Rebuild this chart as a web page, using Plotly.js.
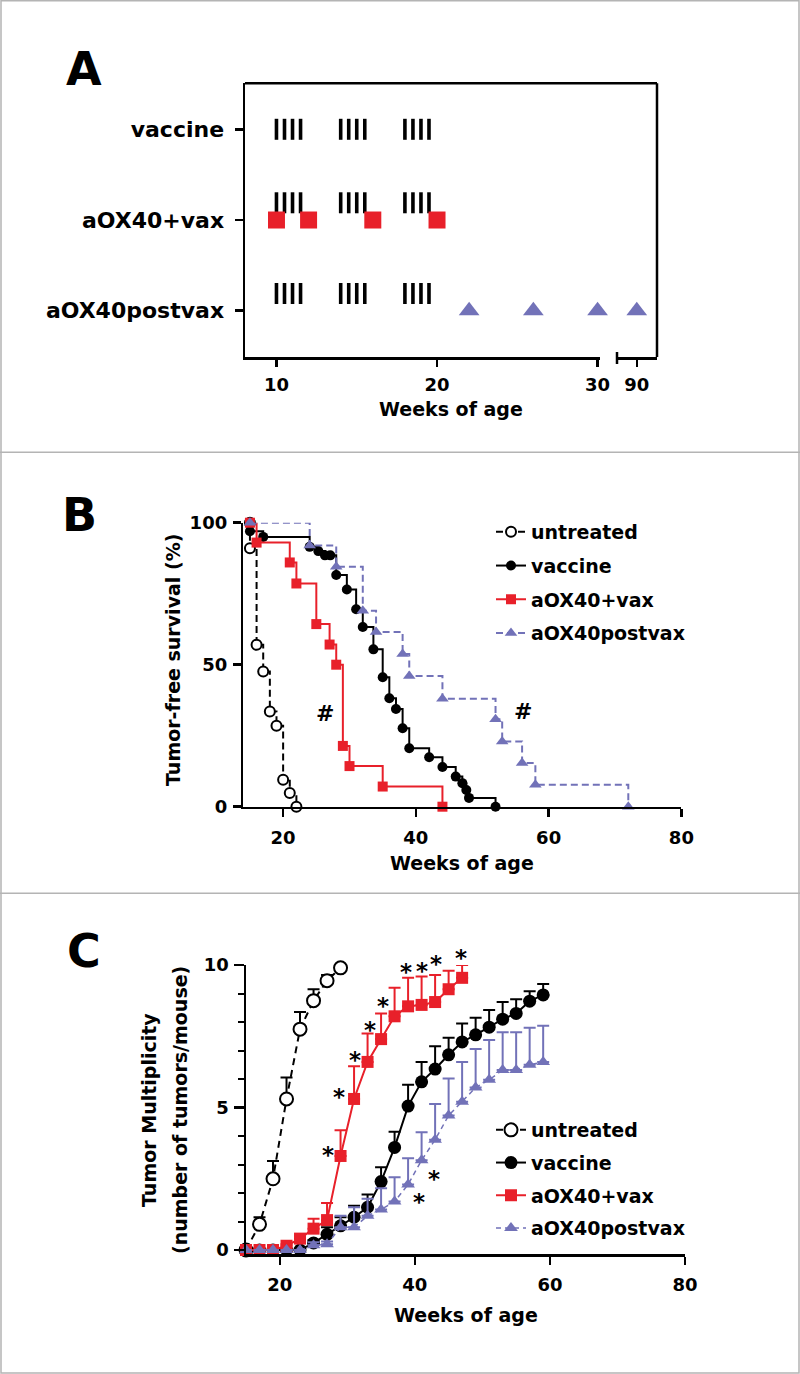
<!DOCTYPE html>
<html><head><meta charset="utf-8">
<script src="https://cdn.plot.ly/plotly-3.0.1.min.js"></script>
<style>html,body{margin:0;padding:0;background:#fff}#chart{width:800px;height:1374px}</style>
</head><body><div id="chart"></div>
<script>
// ---------------- DATA ----------------
// Panel A: treatment schedule (weeks of age)
const scheduleRows = ['aOX40postvax', 'aOX40+vax', 'vaccine'];   // y = 1, 2, 3
const vaccineDoseWeeks = [10, 10.5, 11, 11.5, 14, 14.5, 15, 15.5, 18, 18.5, 19, 19.5];
const aOX40DoseWeeks = [10, 12, 16, 20];
const postvaxDoseWeeks = [22, 26, 30, 90];
const scheduleTickVals = [10, 20, 30];
const scheduleBreakTick = [90];

// Panel B: tumor-free survival (%)
const untreatedSurvWeeks = [15, 15, 16, 17, 18, 19, 20, 21, 22];
const untreatedSurv      = [100, 91, 57, 47.6, 33.5, 28.5, 9.5, 4.8, 0];
const vaccineSurvWeeks = [15, 15, 17, 24, 25.3, 26.3, 27.1, 28, 29.6, 31, 32, 33.6, 35, 36, 37, 38, 39, 42, 44, 46, 47, 47.6, 48, 52];
const vaccineSurv      = [100, 97, 95, 91.5, 90, 88.5, 88.5, 81.6, 76.5, 69.5, 63.3, 55.4, 45.6, 38.2, 34.4, 27.6, 20.6, 17.4, 14, 10.6, 8.3, 5.9, 3.1, 0];
const aOX40SurvWeeks = [15, 16, 21, 22, 25, 27, 28, 29, 30, 35, 44];
const aOX40Surv      = [100, 93, 86, 78.6, 64.3, 57.1, 50, 21.4, 14.3, 7.1, 0];
const postvaxSurvWeeks = [15, 24, 28, 32, 34, 38, 39, 44, 52, 53, 56, 58, 72];
const postvaxSurv      = [100, 92, 84.5, 69, 61.5, 53.8, 46, 38, 30.8, 23, 15.4, 7.7, 0];
const hashWeeks = [26.3, 56.1];
const hashSurv  = [32.8, 33.5];

// Panel C: tumor multiplicity (mean, upper SEM)
const untreatedMultWeeks = [15, 17, 19, 21, 23, 25, 27, 29];
const untreatedMult      = [0, 0.9, 2.5, 5.3, 7.75, 8.75, 9.45, 9.9];
const untreatedMultErr   = [0, 0.25, 0.62, 0.75, 0.6, 0.4, 0.2, 0.05];
const vaccineMultWeeks = [15, 17, 19, 21, 23, 25, 27, 29, 31, 33, 35, 37, 39, 41, 43, 45, 47, 49, 51, 53, 55, 57, 59];
const vaccineMult      = [0, 0, 0, 0, 0, 0.25, 0.55, 0.85, 1.15, 1.5, 2.4, 3.6, 5.05, 5.9, 6.35, 6.85, 7.3, 7.55, 7.82, 8.1, 8.3, 8.73, 8.95];
const vaccineMultErr   = [0, 0, 0, 0, 0, 0.1, 0.25, 0.3, 0.4, 0.45, 0.5, 0.55, 0.75, 0.7, 0.8, 0.6, 0.65, 0.6, 0.6, 0.6, 0.5, 0.35, 0.38];
const aOX40MultWeeks = [15, 17, 19, 21, 23, 25, 27, 29, 31, 33, 35, 37, 39, 41, 43, 45, 47];
const aOX40Mult      = [0, 0, 0, 0.15, 0.4, 0.75, 1.05, 3.3, 5.3, 6.6, 7.4, 8.2, 8.55, 8.6, 8.7, 9.15, 9.55];
const aOX40MultErr   = [0, 0, 0, 0.05, 0.1, 0.35, 0.6, 0.9, 1.15, 1.0, 0.9, 1.0, 1.0, 1.0, 0.95, 0.65, 0.45];
const postvaxMultWeeks = [15, 17, 19, 21, 23, 25, 27, 29, 31, 33, 35, 37, 39, 41, 43, 45, 47, 49, 51, 53, 55, 57, 59];
const postvaxMult      = [0, 0, 0, 0, 0, 0.17, 0.2, 0.8, 0.8, 1.2, 1.42, 1.7, 2.3, 3.15, 3.87, 4.72, 5.2, 5.7, 5.97, 6.32, 6.32, 6.5, 6.6];
const postvaxMultErr   = [0, 0, 0, 0, 0, 0.1, 0.1, 0.4, 0.7, 0.6, 0.75, 0.85, 0.92, 0.98, 1.25, 1.3, 1.4, 1.35, 1.4, 1.32, 1.32, 1.3, 1.27];
const starWeeks = [27.2, 28.8, 31.1, 33.4, 35.3, 38.7, 41.1, 43.1, 46.8, 40.6, 42.8];
const starMult  = [3.5, 5.56, 6.85, 7.9, 8.75, 9.93, 9.96, 10.2, 10.43, 1.85, 2.65];

// ---------------- STYLE ----------------
const W = 800, H = 1374;
const px = v => v / W;
const py = v => 1 - v / H;
const FONT = 'DejaVu Sans';
const RED = '#e8202a', PURPLE = '#7272b8', BLACK = '#000000';
const barOffset = {3: 0, 2: 0.19, 1: 0.19};

function ax(o) {
  return Object.assign({
    showgrid: false, zeroline: false, showline: true, linecolor: BLACK, linewidth: 2.5,
    ticks: 'outside', tickcolor: BLACK, tickwidth: 2.5, ticklen: 8,
    tickfont: {family: FONT, size: 18, color: BLACK, weight: 'bold'}, fixedrange: true
  }, o);
}

const traces = [];

// ----- Panel A -----
const barX = [], barY = [];
[3, 2, 1].forEach(r => vaccineDoseWeeks.forEach(w => { barX.push(w); barY.push(r + barOffset[r]); }));
traces.push({type: 'scatter', mode: 'markers', x: barX, y: barY, xaxis: 'x', yaxis: 'y',
  marker: {symbol: 'line-ns-open', size: 15, color: BLACK, line: {width: 3.6, color: BLACK}},
  showlegend: false, cliponaxis: false, hoverinfo: 'skip'});
traces.push({type: 'scatter', mode: 'markers', x: aOX40DoseWeeks, y: aOX40DoseWeeks.map(() => 2), xaxis: 'x', yaxis: 'y',
  marker: {symbol: 'square', size: 17, color: RED}, showlegend: false, cliponaxis: false, hoverinfo: 'skip'});
const pvEarly = postvaxDoseWeeks.filter(w => w <= 30), pvLate = postvaxDoseWeeks.filter(w => w > 30);
traces.push({type: 'scatter', mode: 'markers', x: pvEarly, y: pvEarly.map(() => 1), xaxis: 'x', yaxis: 'y',
  marker: {symbol: 'triangle-up', size: 18, color: PURPLE}, showlegend: false, cliponaxis: false, hoverinfo: 'skip'});
traces.push({type: 'scatter', mode: 'markers', x: pvLate, y: pvLate.map(() => 1), xaxis: 'x2', yaxis: 'y',
  marker: {symbol: 'triangle-up', size: 18, color: PURPLE}, showlegend: false, cliponaxis: false, hoverinfo: 'skip'});

// ----- Panel B -----
const dashB = '7px,4px';
traces.push({type: 'scatter', mode: 'lines+markers', name: 'untreated', legend: 'legend', legendgroup: 'b1',
  x: untreatedSurvWeeks, y: untreatedSurv, xaxis: 'x3', yaxis: 'y3', line: {shape: 'hv', color: BLACK, width: 2, dash: dashB},
  marker: {symbol: 'circle', size: 10, color: '#fff', line: {color: BLACK, width: 2}}, cliponaxis: false});
traces.push({type: 'scatter', mode: 'lines+markers', name: 'vaccine', legend: 'legend', legendgroup: 'b2',
  x: vaccineSurvWeeks, y: vaccineSurv, xaxis: 'x3', yaxis: 'y3', line: {shape: 'hv', color: BLACK, width: 2},
  marker: {symbol: 'circle', size: 10, color: BLACK}, cliponaxis: false});
traces.push({type: 'scatter', mode: 'lines+markers', name: 'aOX40+vax', legend: 'legend', legendgroup: 'b3',
  x: aOX40SurvWeeks, y: aOX40Surv, xaxis: 'x3', yaxis: 'y3', line: {shape: 'hv', color: RED, width: 2},
  marker: {symbol: 'square', size: 10, color: RED}, cliponaxis: false});
traces.push({type: 'scatter', mode: 'lines+markers', name: 'aOX40postvax', legend: 'legend', legendgroup: 'b4',
  x: postvaxSurvWeeks, y: postvaxSurv, xaxis: 'x3', yaxis: 'y3', line: {shape: 'hv', color: PURPLE, width: 2, dash: dashB},
  marker: {symbol: 'triangle-up', size: 11, color: PURPLE}, cliponaxis: false});

// ----- Panel C -----
function errSpec(arr, color) {
  return {type: 'data', symmetric: false, array: arr, arrayminus: arr.map(() => 0), color: color, thickness: 2, width: 6};
}
traces.push({type: 'scatter', mode: 'lines+markers', name: 'untreated', legend: 'legend2', legendgroup: 'c1',
  x: untreatedMultWeeks, y: untreatedMult, xaxis: 'x4', yaxis: 'y4', line: {color: BLACK, width: 2, dash: '7px,5px'},
  error_y: errSpec(untreatedMultErr, BLACK),
  marker: {symbol: 'circle', size: 13, color: '#fff', line: {color: BLACK, width: 2}}, cliponaxis: false});
traces.push({type: 'scatter', mode: 'lines+markers', name: 'vaccine', legend: 'legend2', legendgroup: 'c2',
  x: vaccineMultWeeks, y: vaccineMult, xaxis: 'x4', yaxis: 'y4', line: {color: BLACK, width: 2},
  error_y: errSpec(vaccineMultErr, BLACK),
  marker: {symbol: 'circle', size: 13, color: BLACK}, cliponaxis: false});
traces.push({type: 'scatter', mode: 'lines+markers', name: 'aOX40+vax', legend: 'legend2', legendgroup: 'c3',
  x: aOX40MultWeeks, y: aOX40Mult, xaxis: 'x4', yaxis: 'y4', line: {color: RED, width: 2},
  error_y: errSpec(aOX40MultErr, RED),
  marker: {symbol: 'square', size: 12, color: RED}, cliponaxis: false});
traces.push({type: 'scatter', mode: 'lines+markers', name: 'aOX40postvax', legend: 'legend2', legendgroup: 'c4',
  x: postvaxMultWeeks, y: postvaxMult, xaxis: 'x4', yaxis: 'y4', line: {color: PURPLE, width: 1.5, dash: '5px,4px'},
  error_y: errSpec(postvaxMultErr, PURPLE),
  marker: {symbol: 'triangle-up', size: 12, color: PURPLE}, cliponaxis: false});

// ---------------- AXIS GEOMETRY ----------------
const yCrange = [-0.15, 10];
const yCdomPx = [1254.3, 965];
const yCpxPerUnit = (yCdomPx[0] - yCdomPx[1]) / (yCrange[1] - yCrange[0]);

// ---------------- ANNOTATIONS ----------------
const ann = [];
function txt(text, x, y, size, extra) {
  ann.push(Object.assign({text: text, x: x, y: y, xref: 'paper', yref: 'paper', xanchor: 'center', yanchor: 'middle',
    showarrow: false, font: {family: FONT, size: size, color: BLACK, weight: 'bold'}}, extra || {}));
}
txt('A', px(84), py(69), 46);
txt('B', px(79), py(515), 46);
txt('C', px(84), py(951), 46);
txt('Weeks of age', px(451.5), py(409), 19);
txt('Weeks of age', px(462), py(863), 19);
txt('Weeks of age', px(465.5), py(1315), 19);
txt('Tumor-free survival (%)', px(173), py(660), 19, {textangle: -90});
txt('Tumor Multiplicity', px(149), py(1110), 19, {textangle: -90});
txt('(number of tumors/mouse)', px(180), py(1110), 19, {textangle: -90});
hashWeeks.forEach((w, i) => ann.push({text: '#', x: w, y: hashSurv[i], xref: 'x3', yref: 'y3', showarrow: false,
  font: {family: FONT, size: 22, color: BLACK, weight: 'bold'}}));
starWeeks.forEach((w, i) => {
  const v = starMult[i];
  const yv = Math.min(v, yCrange[1]);   // annotations above the axis range are kept visible via a pixel shift
  ann.push({text: '*', x: w, y: yv, xref: 'x4', yref: 'y4', showarrow: false,
    yshift: -5 + (v - yv) * yCpxPerUnit,
    font: {family: FONT, size: 23, color: BLACK, weight: 'bold'}});
});

// ---------------- SHAPES ----------------
const gray = {color: '#b4b4b4', width: 1.5};
const shapes = [
  {type: 'rect', xref: 'paper', yref: 'paper', x0: px(1), x1: px(799), y0: py(1373), y1: py(0.8), line: gray},
  {type: 'line', xref: 'paper', yref: 'paper', x0: 0, x1: 1, y0: py(452.3), y1: py(452.3), line: gray},
  {type: 'line', xref: 'paper', yref: 'paper', x0: 0, x1: 1, y0: py(893.3), y1: py(893.3), line: gray},
  {type: 'line', xref: 'paper', yref: 'paper', x0: px(245), x1: px(657), y0: py(83.3), y1: py(83.3), line: {color: BLACK, width: 2.5}},
  {type: 'line', xref: 'paper', yref: 'paper', x0: px(657), x1: px(657), y0: py(357), y1: py(83.3), line: {color: BLACK, width: 2.5}},
  {type: 'line', xref: 'paper', yref: 'paper', x0: px(617), x1: px(617), y0: py(352), y1: py(364), line: {color: BLACK, width: 2.5}}
];

const legendBase = {xanchor: 'left', yanchor: 'top', bgcolor: 'rgba(0,0,0,0)', borderwidth: 0,
  font: {family: FONT, size: 19, color: BLACK, weight: 'bold'}, traceorder: 'grouped'};

const layout = {
  width: W, height: H, margin: {l: 0, r: 0, t: 0, b: 0}, paper_bgcolor: '#fff', plot_bgcolor: 'rgba(0,0,0,0)',
  showlegend: true, hovermode: false,
  xaxis: ax({domain: [px(245), px(599.5)], range: [8.04, 30.12], anchor: 'y', tickvals: scheduleTickVals, ticklen: 7, ticklabelstandoff: 3}),
  xaxis2: ax({domain: [px(617), px(657)], range: [88.77, 91.26], anchor: 'y', tickvals: scheduleBreakTick, ticklen: 7, ticklabelstandoff: 3}),
  yaxis: ax({domain: [py(357), py(83.3)], range: [0.49, 3.507], anchor: 'x', tickvals: [1, 2, 3], ticktext: scheduleRows,
    ticklabelstandoff: 6, tickfont: {family: FONT, size: 22, color: BLACK, weight: 'bold'}}),
  xaxis3: ax({domain: [px(243.3), px(681.4)], range: [14, 80], anchor: 'y3', tickvals: [20, 40, 60, 80], ticklabelstandoff: 5}),
  yaxis3: ax({domain: [py(806.7), py(522.7)], range: [0, 100], anchor: 'x3', tickvals: [0, 50, 100], ticklabelstandoff: 2}),
  xaxis4: ax({domain: [px(246), px(685)], range: [15, 80], anchor: 'y4', tickvals: [20, 40, 60, 80], ticklabelstandoff: 5}),
  yaxis4: ax({domain: [py(yCdomPx[0]), py(yCdomPx[1])], range: yCrange, anchor: 'x4', tickvals: [0, 5, 10], ticklen: 10, ticklabelstandoff: 1,
    minor: {tick0: 0, dtick: 1, ticks: 'outside', ticklen: 6, tickwidth: 2, tickcolor: BLACK}}),
  legend: Object.assign({x: px(491), y: py(513), tracegroupgap: 6}, legendBase),
  legend2: Object.assign({x: px(491), y: py(1111), tracegroupgap: 5}, legendBase),
  annotations: ann,
  shapes: shapes
};

Plotly.newPlot('chart', traces, layout, {displayModeBar: false, staticPlot: true});
</script></body></html>
